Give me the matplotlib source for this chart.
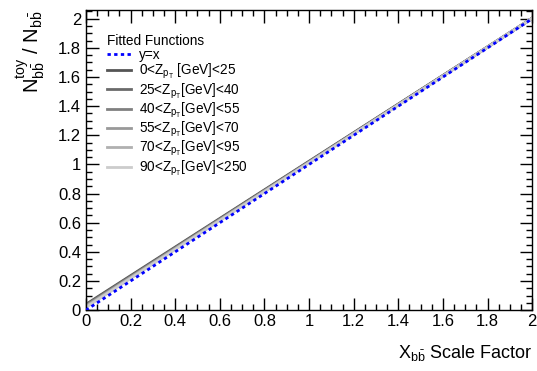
import numpy as np
import matplotlib
matplotlib.use("Agg")
import matplotlib.pyplot as plt
from matplotlib.ticker import MultipleLocator

plt.rcParams['font.family'] = ['Liberation Sans', 'DejaVu Sans']
plt.rcParams['mathtext.fontset'] = 'custom'
plt.rcParams['mathtext.rm'] = 'Liberation Sans'
plt.rcParams['mathtext.it'] = 'Liberation Sans'
plt.rcParams['mathtext.bf'] = 'Liberation Sans:bold'

# fitted lines y = a + b*x per Z pT bin
bins = ["0<Z$_{p_{T}}$ [GeV]<25", "25<Z$_{p_{T}}$[GeV]<40", "40<Z$_{p_{T}}$[GeV]<55",
        "55<Z$_{p_{T}}$[GeV]<70", "70<Z$_{p_{T}}$[GeV]<95", "90<Z$_{p_{T}}$[GeV]<250"]
intercepts = [0.040, 0.035, 0.031, 0.027, 0.023, 0.019]
slopes = [0.982, 0.984, 0.986, 0.988, 0.990, 0.992]
greys = ["#555555", "#6a6a6a", "#808080", "#999999", "#b0b0b0", "#cccccc"]
x_range = [0.0, 2.0]

fig = plt.figure(figsize=(5.37, 3.71), dpi=100)
ax = fig.add_axes([0.160, 0.164, 0.831, 0.809])

x = np.array(x_range)
for lab, a, b, c in zip(bins, intercepts, slopes, greys):
    ax.plot(x, a + b * x, color=c, lw=2.0, label=lab)
ax.plot(x, x, color="#0000ff", lw=2.0, ls=(0, (1.2, 1.2)), label="y=x", zorder=5)

ax.set_xlim(0, 2)
ax.set_ylim(0, 2.06)
ax.xaxis.set_minor_locator(MultipleLocator(0.05))
ax.yaxis.set_minor_locator(MultipleLocator(0.05))
tick_vals = np.arange(0, 2.01, 0.2)
tick_labels = ["0", "0.2", "0.4", "0.6", "0.8", "1", "1.2", "1.4", "1.6", "1.8", "2"]
ax.set_xticks(tick_vals)
ax.set_xticklabels(tick_labels)
ax.set_yticks(tick_vals)
ax.set_yticklabels(tick_labels)
ax.tick_params(which="both", direction="in", top=True, right=True, labelsize=12, width=1)
ax.tick_params(which="major", length=9)
ax.tick_params(which="minor", length=4.5)
ax.tick_params(axis="x", pad=3)
for s in ax.spines.values():
    s.set_linewidth(1)

ax.set_xlabel(r"X$_{b\bar{b}}$ Scale Factor", fontsize=13, loc="right", labelpad=10)
ax.set_ylabel(r"N$^{toy}_{b\bar{b}}$ / N$_{b\bar{b}}$", fontsize=14.5, loc="top", labelpad=8)

h, l = ax.get_legend_handles_labels()
order = [6, 0, 1, 2, 3, 4, 5]
leg = ax.legend([h[i] for i in order], [l[i] for i in order], title="Fitted Functions",
                loc="upper left", bbox_to_anchor=(0.025, 0.952), frameon=False,
                fontsize=9.8, title_fontsize=9.8, handlelength=1.8, handletextpad=0.55,
                labelspacing=0.0, borderpad=0.2)
leg._legend_box.align = "left"

fig.savefig("out.png", dpi=100)
